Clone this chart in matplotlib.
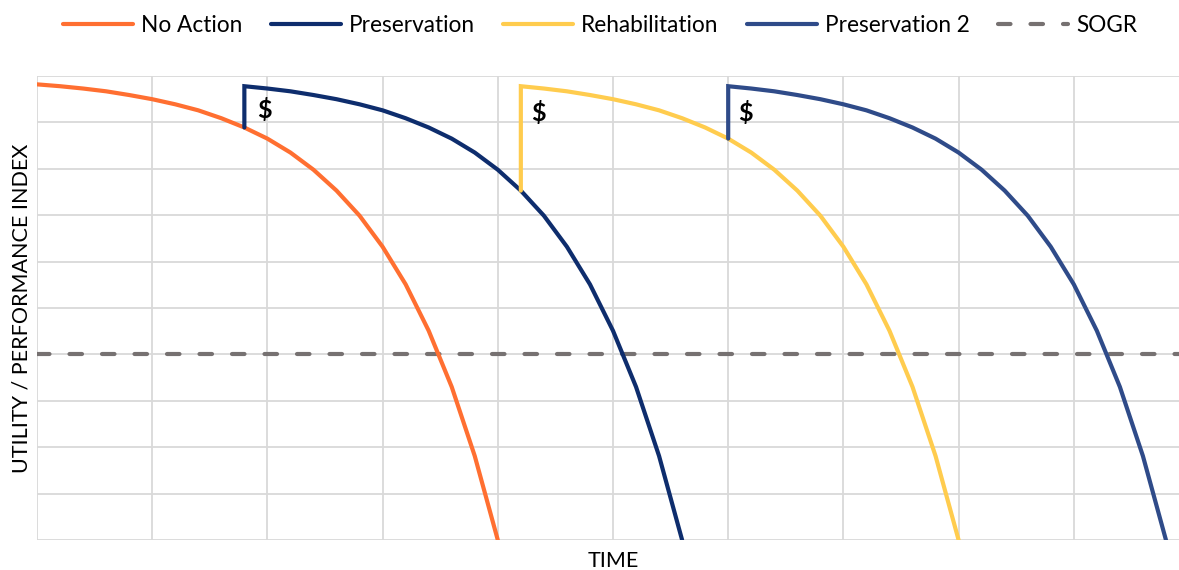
import matplotlib
matplotlib.use("Agg")
import matplotlib.pyplot as plt

plt.rcParams['font.family'] = ['Lato', 'DejaVu Sans']

# values (x in time units, y = index 0-100)
no_action_x = [0.0, 0.2, 0.4, 0.6, 0.8, 1.0, 1.2, 1.4, 1.6, 1.8, 2.0,
               2.2, 2.4, 2.6, 2.8, 3.0, 3.2, 3.4, 3.6, 3.8, 4.0]
no_action_y = [98.2, 97.8, 97.3, 96.7, 95.9, 95.0, 93.9, 92.6, 90.9, 88.9, 86.5,
               83.5, 79.8, 75.3, 69.9, 63.2, 55.1, 45.1, 33.0, 18.1, 0.0]

preservation_x = [1.8, 1.8, 2.0, 2.2, 2.4, 2.6, 2.8, 3.0, 3.2, 3.4, 3.6,
                  3.8, 4.0, 4.2, 4.4, 4.6, 4.8, 5.0, 5.2, 5.4, 5.6]
preservation_y = [88.9, 97.8, 97.3, 96.7, 95.9, 95.0, 93.9, 92.6, 90.9, 88.9, 86.5,
                  83.5, 79.8, 75.3, 69.9, 63.2, 55.1, 45.1, 33.0, 18.1, 0.0]

rehab_x = [4.2, 4.2, 4.4, 4.6, 4.8, 5.0, 5.2, 5.4, 5.6, 5.8, 6.0,
           6.2, 6.4, 6.6, 6.8, 7.0, 7.2, 7.4, 7.6, 7.8, 8.0]
rehab_y = [75.3, 97.8, 97.3, 96.7, 95.9, 95.0, 93.9, 92.6, 90.9, 88.9, 86.5,
           83.5, 79.8, 75.3, 69.9, 63.2, 55.1, 45.1, 33.0, 18.1, 0.0]

preservation2_x = [6.0, 6.0, 6.2, 6.4, 6.6, 6.8, 7.0, 7.2, 7.4, 7.6, 7.8,
                   8.0, 8.2, 8.4, 8.6, 8.8, 9.0, 9.2, 9.4, 9.6, 9.8]
preservation2_y = [86.5, 97.8, 97.3, 96.7, 95.9, 95.0, 93.9, 92.6, 90.9, 88.9, 86.5,
                   83.5, 79.8, 75.3, 69.9, 63.2, 55.1, 45.1, 33.0, 18.1, 0.0]

sogr_x = [0, 10]
sogr_y = [40, 40]

cost_marks_x = [1.97, 4.35, 6.15]
cost_marks_y = [92.6, 92.0, 92.0]

fig = plt.figure(figsize=(11.79, 5.70), dpi=100)
ax = fig.add_axes([37 / 1179, 30 / 570, 1152 / 1179, 464 / 570])

line_kw = dict(linewidth=3, solid_joinstyle='miter', solid_capstyle='round')
ax.plot(sogr_x, sogr_y, color='#767171', linewidth=3, dashes=(3.0, 4.8),
        dash_capstyle='round', label='SOGR', zorder=2)
ax.plot(no_action_x, no_action_y, color='#FF6F31', label='No Action', zorder=3, **line_kw)
ax.plot(preservation_x, preservation_y, color='#0E2D6D', label='Preservation', zorder=3, **line_kw)
ax.plot(rehab_x, rehab_y, color='#FFCC4E', label='Rehabilitation', zorder=3, **line_kw)
ax.plot(preservation2_x, preservation2_y, color='#2F4B89', label='Preservation 2', zorder=3, **line_kw)

for cx, cy in zip(cost_marks_x, cost_marks_y):
    ax.text(cx, cy, '$', fontsize=18, fontweight='bold', ha='center', va='center',
            color='black', zorder=4)

ax.set_xlim(0, 10)
ax.set_ylim(0, 100)
ax.set_xticks(range(0, 11))
ax.set_yticks(range(0, 101, 10))
ax.tick_params(length=0, labelbottom=False, labelleft=False)
ax.grid(True, color='#D9D9D9', linewidth=1.3)
ax.set_axisbelow(True)
for s in ax.spines.values():
    s.set_visible(False)

ax.set_xlabel('TIME', fontsize=15.5, labelpad=8)
ax.set_ylabel('UTILITY / PERFORMANCE INDEX', fontsize=15.5, labelpad=4)

handles, labels = ax.get_legend_handles_labels()
order = ['No Action', 'Preservation', 'Rehabilitation', 'Preservation 2', 'SOGR']
hmap = dict(zip(labels, handles))
fig.legend([hmap[l] for l in order], order, loc='center', bbox_to_anchor=(600 / 1179, 1 - 25 / 570),
           ncol=5, frameon=False, fontsize=16.3, handlelength=3.1, handletextpad=0.35,
           columnspacing=1.25)

fig.savefig('out.png', dpi=100)
